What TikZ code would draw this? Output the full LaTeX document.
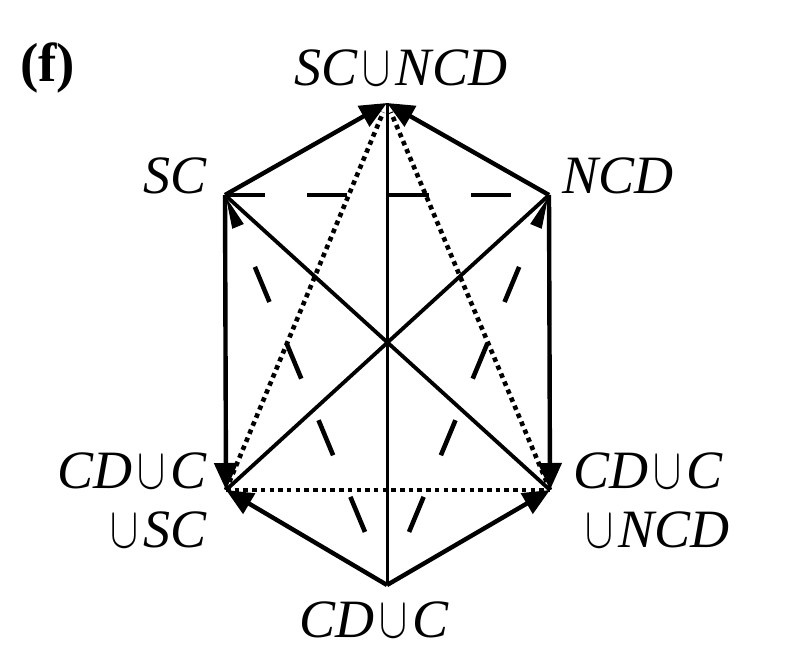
\documentclass[tikz,border=0pt]{standalone}
\usepackage{fontspec}
\setmainfont{Liberation Serif}
\usetikzlibrary{arrows.meta}
\newcommand\un{\hspace{5pt}{\fontsize{10}{12}\selectfont\scalebox{4.2}[5.8]{$\cup$}}\hspace{5pt}}
\tikzset{
  lbl/.style={font=\fontsize{54}{59}\selectfont\itshape, inner sep=0pt},
  tiplbl/.style={font=\fontsize{55}{60}\selectfont\bfseries, inner sep=0pt},
  bigtip/.tip={Triangle[length=27pt,width=23pt]},
  thintip/.tip={Triangle[length=34pt,width=11pt]},
  thickedge/.style={line width=4.4pt},
  diagedge/.style={line width=3.8pt},
  midedge/.style={line width=3pt},
  dotedge/.style={line width=4.6pt, dash pattern=on 4.5pt off 4.2pt},
  hdashedge/.style={line width=4.6pt, dash pattern=on 40pt off 42pt},
  ddashedge/.style={line width=4.6pt, dash pattern=on 38pt off 45pt, dash phase=38pt},
}
\begin{document}
\begin{tikzpicture}[x=1pt,y=-1pt]
\useasboundingbox (0,0) rectangle (789,668);
\coordinate (T) at (387,103);
\coordinate (SC) at (225,195);
\coordinate (NCD) at (549,195);
\coordinate (L) at (226,490);
\coordinate (R) at (550,490);
\coordinate (B) at (387,585);

% labels
\node[tiplbl, anchor=base west] (f) at (20,82) {(f)};
\node[lbl, anchor=base] (lT) at (401,86) {SC\un NCD};
\node[lbl, anchor=base east] (lSC) at (207,194) {SC};
\node[lbl, anchor=base west] (lNCD) at (562,194) {NCD};
\node[lbl, anchor=north east, align=right] (lL) at (207,453) {CD\un C\hspace{5pt}\\\un SC};
\node[lbl, anchor=north west, align=left] (lR) at (573,453) {CD\un C\\\hspace{7pt}\un NCD};
\node[lbl, anchor=base] (lB) at (374,637) {CD\un C};

% edges
\draw[midedge] (T) -- (B);
\draw[dotedge, shorten >=10pt] (L) -- (T);
\draw[dotedge, shorten >=10pt] (R) -- (T);
\draw[dotedge] (L) -- (R);
\draw[hdashedge] (SC) -- (NCD);
\draw[ddashedge, {thintip}-, shorten >=40pt] (SC) -- (B);
\draw[ddashedge, {thintip}-, shorten >=40pt] (NCD) -- (B);
\draw[diagedge] (SC) -- (R);
\draw[diagedge] (L) -- (NCD);
\draw[thickedge, -{bigtip}] (SC) -- (T);
\draw[thickedge, -{bigtip}] (NCD) -- (T);
\draw[thickedge, -{bigtip}] (SC) -- (L);
\draw[thickedge, -{bigtip}] (NCD) -- (R);
\draw[thickedge, -{bigtip}] (B) -- (L);
\draw[thickedge, -{bigtip}] (B) -- (R);
\end{tikzpicture}
\end{document}
